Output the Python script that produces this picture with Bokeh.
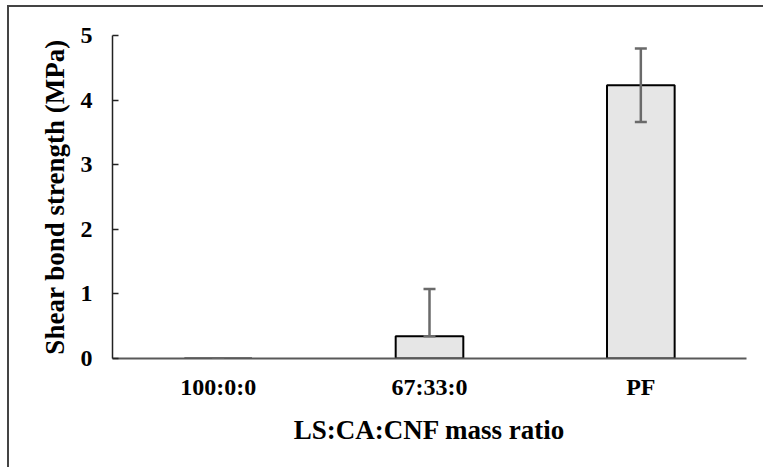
from bokeh.plotting import figure
from bokeh.models import ColumnDataSource, Whisker, TeeHead, FactorRange, Range1d, FixedTicker
from bokeh.embed import file_html
from bokeh.resources import INLINE

categories = ["100:0:0", "67:33:0", "PF"]
strength = [0.0, 0.345, 4.23]
err_plus = [0.0, 0.73, 0.57]
err_minus = [0.0, 0.0, 0.57]
y_ticks = [0, 1, 2, 3, 4, 5]

upper = [m + e for m, e in zip(strength, err_plus)]
lower = [m - e for m, e in zip(strength, err_minus)]
src = ColumnDataSource(dict(cat=categories, val=strength, upper=upper, lower=lower))

p = figure(width=756, height=462, x_range=FactorRange(*categories), y_range=Range1d(0, 5),
           output_backend="svg", toolbar_location=None,
           min_border_left=103, min_border_right=19, min_border_top=28, min_border_bottom=111)
p.styles = {"margin-left": "7px", "margin-top": "5px",
            "border-left": "2px solid #444444", "border-top": "2px solid #444444"}
p.outline_line_color = None
p.xgrid.grid_line_color = None
p.ygrid.grid_line_color = None
p.background_fill_color = "white"
p.border_fill_color = "white"

p.vbar(x="cat", top="val", bottom=0, width=0.32, source=src,
       fill_color="#e6e6e6", line_color="black", line_width=2)

w = Whisker(base="cat", upper="upper", lower="lower", source=src,
            line_color="#6a6a6a", line_width=2.5,
            upper_head=TeeHead(size=12, line_color="#6a6a6a", line_width=2.5),
            lower_head=TeeHead(size=12, line_color="#6a6a6a", line_width=2.5))
w.level = "overlay"
p.add_layout(w)

font = "Liberation Serif"
p.yaxis.ticker = FixedTicker(ticks=y_ticks)
p.yaxis.axis_label = "Shear bond strength (MPa)"
p.xaxis.axis_label = "LS:CA:CNF mass ratio"
for ax in (p.xaxis[0], p.yaxis[0]):
    ax.axis_label_text_font = font
    ax.axis_label_text_font_style = "bold"
    ax.axis_label_text_font_size = "27px"
    ax.axis_label_text_color = "black"
    ax.major_label_text_font = font
    ax.major_label_text_font_style = "bold"
    ax.major_label_text_font_size = "24px"
    ax.major_label_text_color = "black"
    ax.minor_tick_line_color = None

p.yaxis.axis_line_color = "#222222"
p.yaxis.axis_line_width = 1.5
p.yaxis.major_tick_line_color = "#222222"
p.yaxis.major_tick_line_width = 1.5
p.yaxis.major_tick_in = 6
p.yaxis.major_tick_out = 0
p.yaxis.major_label_standoff = 20
p.yaxis.axis_label_standoff = 8

p.xaxis.axis_line_color = "#595959"
p.xaxis.axis_line_width = 2
p.xaxis.major_tick_line_color = None
p.xaxis.major_tick_in = 0
p.xaxis.major_tick_out = 0
p.xaxis.major_label_standoff = 15
p.xaxis.axis_label_standoff = 12

open("out.html", "w").write(file_html(p, INLINE))
